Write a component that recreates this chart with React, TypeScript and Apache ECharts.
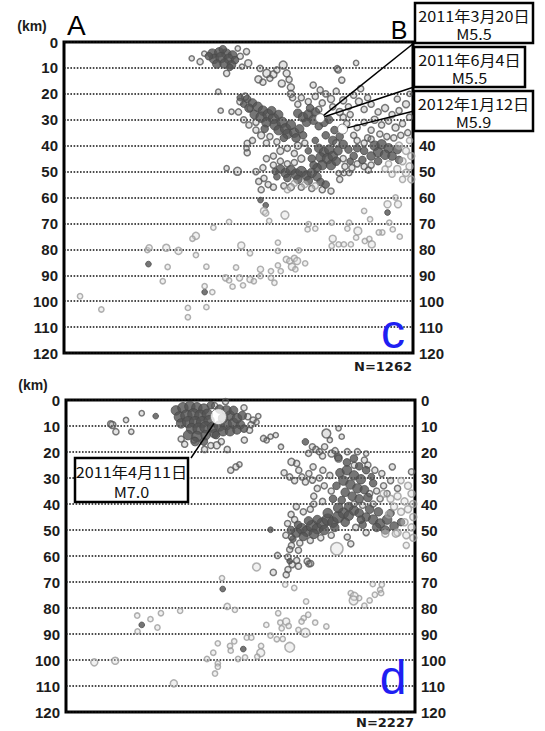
import React, { useEffect, useRef } from "react";
import * as echarts from "echarts";

// depth axis (km), x = distance along profile A-B (0..100, arbitrary units)
const depthTicks = [0, 10, 20, 30, 40, 50, 60, 70, 80, 90, 100, 110, 120];
const panelCounts = ["N=1262", "N=2227"];
const panelLetters = ["c", "d"];

// ---------- panel c (top) : [x, depth, symbolSize] ----------
const topCore = [
  [42.5,4.5,10],[44.5,4.0,10],[46.5,4.5,10],[48.3,5.0,9],[43.0,6.5,10],[45.0,6.0,11],[47.2,6.5,10],[49.0,7.0,8],
  [43.8,8.5,9],[46.0,8.3,10],[48.0,8.8,9],[41.5,5.5,8],[45.5,2.8,8],[47.5,9.8,7],
  [52.5,22,8],[54,23.5,9],[53,25.5,9],[55.5,25,10],[57,26.5,10],[54.5,28,9],[56.5,29,11],[58.5,28,11],[60,29.5,11],
  [58,31,10],[60.5,32,11],[62.5,31,11],[61.5,34,10],[63.5,33.5,11],[65,32,10],[64,35.5,10],[66,35,10],[67.5,33.5,9],
  [66.5,37,9],[63,37,8],[59.5,26.5,9],[61.5,28,9],[57.5,33.5,8],[68.5,36,8],
  [67,27.5,9],[68.5,29,10],[70,28,10],[71.5,30,10],[69.5,31,9],[72,27,9],[70.5,25.5,8],[74.5,31,9],[76,30,8],[73,32.5,8],
  [50.5,21.5,7],[51.5,24,7],
  [62,49,9],[63.5,50.5,10],[65,49.5,10],[66.5,51,11],[68,50,11],[69.5,51.5,10],[71,50.5,10],[72.5,52,9],[64,52.5,8],
  [67,53,9],[70,53.5,9],[73.5,54,8],[75,55,8],[60.5,50,7],[61,52,7],
  [73,41,9],[74.5,42.5,10],[76,41.5,10],[73.5,44.5,10],[75.5,45,11],[77,44,10],[74,47.5,10],[76.5,47.5,10],[72.5,48.5,9],
  [78.5,42,9],[78,46,9],[71,45,8],[70,42,7],[71.5,47.5,8],
  [75,36,8],[77,38,9],[79,36.5,8],[72,38,7],[80,39.5,9],[77.5,34,8],
  [89,40,10],[91,39.5,10],[93,41,10],[90,42.5,10],[92,43.5,10],[94,44,9],[88,44,9],[95.5,41.5,9],[86,42,8],[84,41,8],
  [83,44,8],[85.5,45.5,8],[90,46,8],[96,45.5,8],[81.5,41.5,8],[82,46,7],
  [56.3,61,6],[57.8,63,6],[92.7,65.8,6],[24.2,85.7,6],[40.3,96.5,6]
];
const topGray = [
  [36.6,6.3,6],[39,7.6,7],[52.3,3.7,7],[52.8,8.2,8],[46.6,12.1,7],[40.2,4.5,6],[50.5,5.5,7],[51,9.5,6],[49.8,2.5,6],
  [55.7,14.4,8],[59,14,7],[62.8,8.9,9],[63.8,12.1,8],[61,10.8,7],[62.4,16,8],[56.2,10.2,7],[58.1,12.1,9],[60,12.5,8],
  [57,15.5,7],[64.5,14.5,7],[65,17.5,8],[65,20,8],[65.5,21.5,7],[78.3,10.3,7],[83.7,8.1,6],[71.4,16.6,7],[73.4,18.5,7],
  [44.2,19.2,6],[44.9,26.5,6],[48,26.9,6],[50.4,23,7],[51.9,21.1,8],[53.3,25.6,7],
  [75,20,7],[76.5,22,8],[78,19,7],[79.6,14.7,7],[78.6,10.8,7],[80,22.5,8],[81.5,25,7],[83,20.5,7],[84.5,23,8],[86,26,7],
  [82,28,7],[77,25,7],[79,27,8],[85,18,7],[87,21.5,7],[74,23.5,7],[72,21,7],[70,23,7],[68,21.5,7],[67,24,7],[73,26,7],
  [88,24,7],[90,27,7],[92,25.5,8],[94,28,7],[96,26.5,7],[98,24,8],[99,29,7],[89,30,8],[91,32,7],[93,30.5,7],[95,33,8],
  [97,31.5,7],[88,34,7],[90.5,35.5,7],[92.5,36.5,7],[94.5,37,7],[96.5,36,7],[98.5,35,7],[86,31,7],[84,33,7],[99,20,6],
  [95.5,22,7],[87,37,7],[83,36,7],[81,31.5,7],[80,29,7],
  [50,27,7],[51.5,30,7],[53,32,7],[55,34,7],[56.5,36,8],[59,36.5,7],[61,38.5,7],[58,39,7],[55,31,7],[52.5,39.1,7],
  [52.5,42.7,7],[52.3,41,6],[46.6,48.7,6],[49.7,49.9,9],[54,38,7],
  [58,45,7],[60,44,7],[62,42,8],[64,41,7],[66,43,7],[68,45,8],[66,46.5,7],[64,47,7],[62,46,7],[69,39,7],[67,40,8],
  [55.8,53.8,7],[57.3,52.6,7],[58.5,55,7],[60,56,7],[56.5,57,7],[63,55.5,7],[65,56,8],[68,56,7],[71,56.5,7],[74,57,7],
  [78.7,50.6,6],[80.2,50.6,6],[81.7,50.6,6],[87.2,49.4,7],[80,45,7],[80.5,48,7],[82.5,48.5,7],[84,47,7],[86,48,7],
  [88,47.5,7],[84,38,7],[86,39,7],[88,37.5,7],[79,53,7],[76.5,57.5,7],[60,47.5,7],[57,48.5,7],[55,50,7],[78,39,8]
];
const topLight = [
  [96,40,8],[98,42,8],[99.5,44,8],[97,46,8],[99,48,8],[95.5,49,8],[98,50.5,8],[99.5,53,8],[97,53,7],[94,51,7],[92,49,7],
  [99,38,7],[93,47,7],[66,54.5,7],[69,55,7],[72,55.5,7],[64,57,7],
  [57.3,65.2,8],[57.8,66,7],[63.3,66.8,9],[58.8,69,6],[47.3,69.4,6],[42.8,71.6,6],[37.8,74.8,8],[36.8,75.9,6],[29.3,79.4,8],
  [32.8,80.6,8],[23.9,80.3,6],[24.4,79.4,7],[37.8,82.2,6],[50.8,78.5,8],[53.3,81.5,6],[61.3,77.4,6],[61.3,80.6,6],
  [67.3,80.4,6],[63.7,83.9,7],[64.7,84.5,7],[66,83.5,7],[66.8,84.5,8],[65.3,86.7,8],[66.3,87.7,6],[69.1,85.4,6],
  [61.3,86.2,6],[62.1,88.4,6],[29.7,86.8,6],[40.8,86.7,6],[28.3,92.3,6],[49.3,87,6],[46.3,91,7],[47.3,92,6],[50.3,91,7],
  [48.3,94.4,6],[51.3,93.9,6],[53.3,91.6,7],[54.4,92.3,6],[56.3,90.3,6],[56.3,87.7,7],[59.3,88.4,6],[59.3,91,6],
  [60.3,92.9,6],[40.3,94.2,6],[42.5,96.5,6],[4.6,98.1,6],[10.7,103.2,6],[35.5,102.6,6],[35.5,106.2,6],[40.8,102.3,6],
  [92.7,62.6,8],[95.7,62.6,8],[86,65.2,6],[87.7,68.4,6],[93.2,69.7,6],[94.2,72.3,6],[91.2,73.5,6],[96.2,75.1,6],
  [84.2,72.9,9],[83.7,75.5,6],[86.2,76.8,6],[87.5,76,6],[88.2,78.1,8],[78.7,78.1,6],[80.2,78.1,6],[82.2,78.1,6],
  [76.7,78.7,6],[77,75.9,8],[81.2,72,6],[81.7,69.7,6],[70.1,70.3,6],[69.8,72.3,6],[72,72,6],[76.7,69.7,6],[90.2,73.5,6],
  [95,60,6]
];
// labelled events: 2011-03-20 M5.5, 2011-06-04 M5.5, 2012-01-12 M5.9
const topEvents = [[73.4,29.4,9],[73.4,29.4,9],[79.8,33.6,10]];
const topEventLabels = [["2011年3月20日","M5.5"],["2011年6月4日","M5.5"],["2012年1月12日","M5.9"]];

// ---------- panel d (bottom) ----------
const botCore = [
  [31.5,4,10],[33.5,3,11],[35.5,2.5,11],[37.5,3,11],[39.5,3.5,11],[32.5,6.5,11],[34.5,6,12],[36.5,5.5,12],[38.5,6,12],
  [40.5,5.5,11],[33,9,10],[35,8.5,12],[37,8.5,12],[39,8.5,12],[41,8,11],[36,11,11],[38,11,12],[40,10.5,12],[42,10.5,11],
  [44,10,11],[46,9.5,11],[48,9,11],[50,9.5,9],[45,12,10],[47,12,10],[49,11.5,9],[51,11,8],[35,13.5,10],[37.5,14,11],
  [40,13.5,10],[42.5,13,9],[37,16,9],[39.5,16,8],[45,7,10],[47,6,10],[49,7,10],[46,4,10],[48,4,9],[50.5,6,9],[44,3.5,9],
  [41.5,2,8],[43,13.5,8],
  [66,51,10],[67.5,49.5,11],[69,50.5,11],[70.5,48.5,12],[72,49.5,11],[73.5,47.5,12],[75,46,12],[76.5,47,11],[78,45,12],
  [79.5,43.5,11],[81,44.5,10],[82.5,42.5,10],[84,43.5,9],[68,52.5,9],[71,51.5,10],[74,50,10],[77,49,9],[80,47,9],[72,46,9],
  [75,43.5,10],[78,41.5,10],[81,41,9],[66.5,48,8],[69.5,46.5,9],[64.5,50,8],[65,53.5,7],
  [78.5,28,9],[80.5,27,10],[82.5,29,10],[84.5,30.5,10],[79.5,31,10],[81.5,32.5,10],[83.5,34,10],[85.5,34.5,9],[80,35.5,9],
  [82,37,9],[84,38,9],[86.5,37.5,9],[77.5,33,8],[79,38.5,8],[76.5,38,8],[80.5,24,8],[82.5,22.5,8],[78,22,8],[84,25.5,8],
  [86,27,8],[88,32,8],[87.5,29.5,7],
  [86,45,9],[88,46,10],[90,47.5,10],[92,46,10],[89,49,9],[91.5,50,9],[94,48.5,9],[87,42,9],[89.5,43,9],[85,48,8],[96,47,8],
  [93,43.5,8],[84.5,46,8],
  [68.6,16.1,7],[25.7,6.2,6],[58.6,49.9,6],[64.1,62,6],[44.9,72.7,6],[21.7,86.5,6],[50.8,95.8,6]
];
const botGray = [
  [13.3,9.6,8],[14.3,12.2,7],[17.2,7.7,6],[18.7,12.2,6],[21.7,5.1,6],[12.8,9.2,7],[52.1,6.4,7],[53.6,7.7,7],[54.6,8.5,6],
  [55.1,6.2,6],[52.6,11.6,7],[51.1,15.4,7],[56.6,14.8,7],[57.5,15.5,6],[58.6,14.1,6],[60.1,13.5,6],[61.6,18,6],[45.7,0.6,7],
  [42.6,2.2,7],[43.2,17.4,8],[46.2,19,7],[39.7,19,7],[36.7,15.4,7],[33,15,7],[34,17,7],[41.5,17.5,7],[44.5,16,7],[53,9.5,7],
  [51,3,7],[47.2,27,7],[48.7,25.7,7],[49.7,24.8,6],
  [74.6,12.9,10],[78.1,10.9,6],[75.6,15.4,6],[79,14.1,6],[70.6,18,7],[71.6,19,7],[72.6,19.9,7],[74.1,18,7],[76.1,20.6,8],
  [77.1,19.5,7],[78.1,22.5,8],[80.6,19.9,7],[83.5,19.9,7],[86,20.6,6],[82.6,25.1,7],[85.5,23.1,7],[86.5,25,7],[88.5,27,7],
  [90.5,28.3,7],[93.5,25.7,7],[99,27.6,7],[69.5,20.5,7],[73.5,21.5,7],
  [64.6,23.8,8],[66.1,24.4,7],[66.7,27,7],[67.6,29.6,7],[64.1,29.6,7],[69.6,28.3,7],[70.6,30.8,7],[68.6,31.5,7],[70.8,25.7,7],
  [73.6,27,7],[72.6,30,7],[75.6,29,7],[62.5,28,7],[65.5,31,7],[74,33,7],[72,34,7],[76,35,7],[71,37,7],
  [64.5,44,7],[66,41,7],[68,43,7],[70,42,7],[71,40,7],[73.5,39,7],[65.5,46,7],[63.5,47.5,7],[63,52,7],[64.6,52.7,7],
  [64.6,56,7],[66.6,57.8,7],[64.1,57.5,7],[67,55,7],[70,54,7],[73,53,7],[76,52,7],[80.6,52.7,7],[81.6,55.3,7],[83,49,7],
  [86,51,7],[82.5,40,7],[85,40.5,7],[88,40,7],[90,38,7],[92,36,7],[89,35,7],[91,33,7],[93,31,7],[95,34,7],[87,36,7],
  [60.6,59.8,7],[63.6,60.4,7],[66.1,61.7,7],[69.6,63,7],[64.8,63.3,7],[66.6,63.9,7],[69.1,62,7],[70.1,62.9,7],[63.1,67.2,7],
  [63.6,65.2,7],[59.4,66.3,7]
];
const botLight = [
  [91,36,8],[93,38,8],[95,37,8],[97,39,8],[99,36,8],[94,41,8],[96,43,8],[98,42,8],[99.5,45,8],[97,47,8],[99,49,8],[95,51,8],
  [97.5,52,8],[99.5,53,8],[91.5,51.4,8],[94.5,51.4,8],[97.5,55.9,7],[98,33,8],[96,31,7],[99.5,40,8],[92.5,44,8],
  [77.6,57.2,14],
  [54.6,64.2,9],[44.7,68.5,6],[62.8,71,6],[65.4,72.3,6],[68.8,77.5,6],[46.2,79.4,7],[48.4,80.7,6],[32.7,81.1,6],[27.2,82,6],
  [24.2,84.3,6],[20.4,82.9,6],[26.2,87.5,6],[20.5,89,6],[60.8,82,6],[61.4,85.6,6],[63.1,85.2,8],[63.8,86.9,6],[61.8,87.8,6],
  [57.4,86.5,6],[68.1,83.9,6],[69.4,82.6,6],[67.5,85.2,6],[71.4,85.6,6],[74.6,87.1,6],[66.6,88.4,6],[68.6,89.5,10],
  [58.6,90.6,6],[60.4,92,6],[62.1,91.9,6],[51.8,91.4,6],[53.1,91.4,6],[48.2,92.8,6],[43.5,93.6,6],[47,94.6,6],[47.2,96.4,6],
  [55.9,94.6,6],[55.8,97.2,9],[54.8,98.7,6],[51.3,99,6],[49.3,99.6,6],[42.2,97.2,6],[40.4,99.6,6],[43.5,101.3,6],
  [43.5,102.6,6],[42.7,105.2,6],[64.1,95.1,11],[8.1,100.9,8],[14.1,100.3,8],[30.9,109,8],
  [81.6,74.3,6],[82.6,75.5,9],[82.4,77.1,10],[84,76.2,6],[85.5,79.1,6],[87,77.1,6],[88.5,74.9,6],[90,73,6],[90.5,71,6],
  [87.9,70.8,6],[90.3,74.3,6]
];
// labelled event: 2011-04-11 M7.0
const botEvents = [[43.7,6.4,16]];
const botEventLabels = [["2011年4月11日","M7.0"]];

const tickFont = { fontSize: 15, fontWeight: "bold" as const, color: "#1c1c1c", fontFamily: "Liberation Sans, Arial, sans-serif" };

function yAxis(gridIndex: number, position: string, split: boolean, minLabel: number) {
  return {
    type: "value", gridIndex, position, inverse: true, min: 0, max: 120, interval: 10,
    axisLine: { show: false }, axisTick: { show: false },
    axisLabel: { ...tickFont, margin: 6, formatter: (v: number) => (depthTicks.includes(v) && v >= minLabel ? String(v) : "") },
    splitLine: { show: split, lineStyle: { color: "#111", width: 1.6, type: "dotted" } },
  };
}

const styles = {
  core: { color: "#545454", borderColor: "#4a4a4a", borderWidth: 1 },
  gray: { color: "rgba(140,140,140,0.3)", borderColor: "#585858", borderWidth: 1.5 },
  light: { color: "rgba(215,215,215,0.45)", borderColor: "#9c9c9c", borderWidth: 1.5 },
  event: { color: "#ffffff", borderColor: "#666", borderWidth: 1 },
};

function scatter(data: number[][], xi: number, yi: number, st: any, k: number, z = 2) {
  return { type: "scatter", xAxisIndex: xi, yAxisIndex: yi, data, symbolSize: (v: number[]) => v[2] * k, itemStyle: st, silent: true, z };
}

export default function App() {
  const ref = useRef<HTMLDivElement>(null);
  useEffect(() => {
    if (!ref.current) return;
    const chart = echarts.init(ref.current, undefined, { renderer: "svg" });
    const option: any = {
      animation: false,
      backgroundColor: "#fff",
      grid: [
        { left: 64, top: 42, width: 349, height: 311, show: true, borderColor: "#000", borderWidth: 3 },
        { left: 66, top: 400, width: 349, height: 312, show: true, borderColor: "#000", borderWidth: 3 },
      ],
      xAxis: [
        { type: "value", gridIndex: 0, min: 0, max: 100, show: false },
        { type: "value", gridIndex: 1, min: 0, max: 100, show: false },
      ],
      // right-hand labels 0-30 of the upper panel are covered by the event boxes in the reference
      yAxis: [yAxis(0, "left", true, 0), yAxis(0, "right", false, 40), yAxis(1, "left", true, 0), yAxis(1, "right", false, 0)],
      series: [
        scatter(topGray, 0, 0, styles.gray, 0.88),
        scatter(topCore, 0, 0, styles.core, 0.95),
        scatter(topLight, 0, 0, styles.light, 0.88),
        scatter(topEvents, 0, 0, styles.event, 1, 5),
        scatter(botGray, 1, 2, styles.gray, 0.88),
        scatter(botCore, 1, 2, styles.core, 0.95),
        scatter(botLight, 1, 2, styles.light, 0.88),
        scatter(botEvents, 1, 2, styles.event, 1, 5),
      ],
    };
    chart.setOption(option);

    const px = (si: number, d: number[]) => chart.convertToPixel({ seriesIndex: si }, [d[0], d[1]]) as number[];
    const seg = (x1: number, y1: number, p: number[], r: number) => {
      const dx = p[0] - x1, dy = p[1] - y1, L = Math.hypot(dx, dy);
      return { x1, y1, x2: p[0] - (dx / L) * r, y2: p[1] - (dy / L) * r };
    };
    const line = (s: any) => ({ type: "line", z: 50, shape: s, style: { stroke: "#000", lineWidth: 1.5 } });
    const boxFont = "'Noto Sans CJK JP', sans-serif";
    const boxText = (x: number, y: number, text: string) => ({
      type: "text", z: 61, x, y, scaleX: 1.08,
      style: { text, fontSize: 15, fontFamily: boxFont, fill: "#111", align: "center", verticalAlign: "middle" },
    });
    const box = (x: number, y: number, w: number, h: number, lines: string[]) => [
      { type: "rect", z: 60, shape: { x, y, width: w, height: h }, style: { fill: "#fff", stroke: "#000", lineWidth: 2.5 } },
      boxText(x + w / 2, y + h * 0.3, lines[0]),
      boxText(x + w / 2, y + h * 0.75, lines[1]),
    ];
    const txt = (x: number, y: number, text: string, style: any) => ({ type: "text", z: 61, x, y, style: { text, fill: "#000", ...style } });

    const e1 = px(3, topEvents[0]);
    const e3 = px(3, topEvents[2]);
    const m7 = px(7, botEvents[0]);

    const graphic: any[] = [
      line(seg(414, 43, e1, 4.5)),
      line(seg(414, 87, e1, 4.5)),
      line(seg(414, 111, e3, 5)),
      line(seg(191, 458, m7, 8)),
      ...box(415, 3, 118, 40, topEventLabels[0]),
      ...box(414, 47, 111, 40, topEventLabels[1]),
      ...box(414, 91, 119, 40, topEventLabels[2]),
      ...box(75, 458, 113, 44, botEventLabels[0]),
      txt(32, 26, "(km)", { fontSize: 14, fontWeight: "bold", fontFamily: "Liberation Sans, Arial, sans-serif", align: "center", verticalAlign: "middle", fill: "#1c1c1c" }),
      txt(33, 385, "(km)", { fontSize: 14, fontWeight: "bold", fontFamily: "Liberation Sans, Arial, sans-serif", align: "center", verticalAlign: "middle", fill: "#1c1c1c" }),
      txt(67, 25, "A", { fontSize: 28, fontFamily: "Liberation Sans, Arial, sans-serif", align: "left", verticalAlign: "middle" }),
      txt(399, 30, "B", { fontSize: 25, fontFamily: "Liberation Sans, Arial, sans-serif", align: "center", verticalAlign: "middle" }),
      txt(393, 331, panelLetters[0], { fontSize: 48, fontFamily: "Liberation Sans, Arial, sans-serif", align: "center", verticalAlign: "middle", fill: "#1f1ff2" }),
      txt(393, 677, panelLetters[1], { fontSize: 48, fontFamily: "Liberation Sans, Arial, sans-serif", align: "center", verticalAlign: "middle", fill: "#1f1ff2" }),
      txt(412, 366, panelCounts[0], { fontSize: 13, fontWeight: "bold", fontFamily: "DejaVu Sans, sans-serif", align: "right", verticalAlign: "middle", fill: "#1c1c1c" }),
      txt(414, 722, panelCounts[1], { fontSize: 13, fontWeight: "bold", fontFamily: "DejaVu Sans, sans-serif", align: "right", verticalAlign: "middle", fill: "#1c1c1c" }),
    ];
    chart.setOption({ graphic });
    return () => chart.dispose();
  }, []);
  return <div ref={ref} style={{ position: "fixed", left: 0, top: 0, width: 545, height: 731, background: "#fff" }} />;
}
